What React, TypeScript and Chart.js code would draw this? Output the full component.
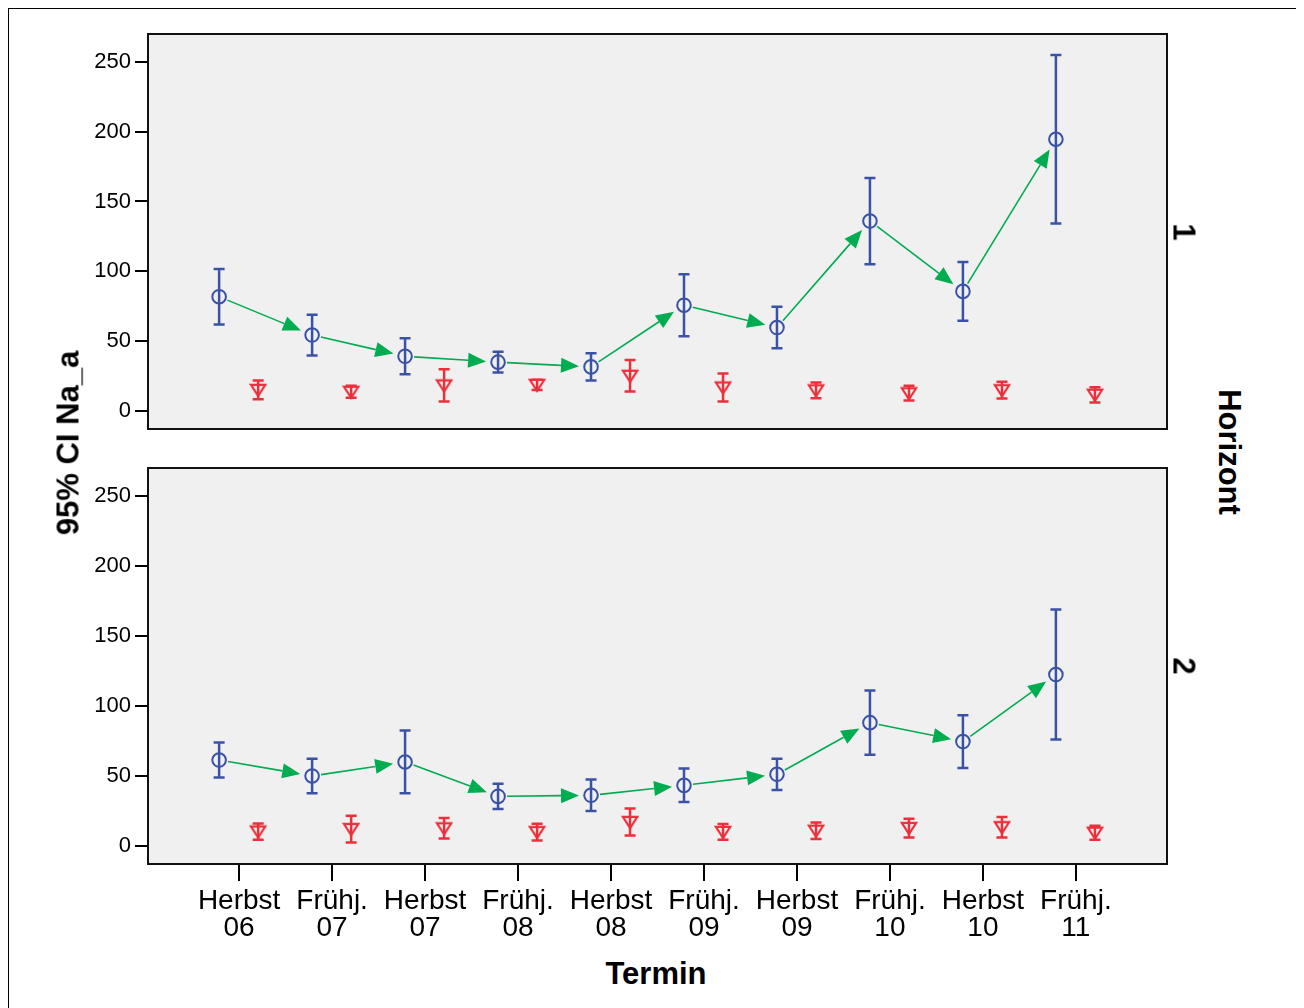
import React, { useEffect, useRef } from 'react';
import { Chart, registerables } from 'chart.js';

Chart.register(...registerables);

// ---------- data ----------
const categories: string[][] = [
  ['Herbst', '06'], ['Frühj.', '07'], ['Herbst', '07'], ['Frühj.', '08'], ['Herbst', '08'],
  ['Frühj.', '09'], ['Herbst', '09'], ['Frühj.', '10'], ['Herbst', '10'], ['Frühj.', '11'],
];
const yTickValues = [0, 50, 100, 150, 200, 250];
const horizonLabels = ['1', '2'];

// Horizont 1
const h1BlueMean = [81.8, 54.3, 39.1, 34.9, 31.5, 75.7, 59.7, 136.0, 85.6, 194.6];
const h1BlueLow = [61.8, 39.6, 26.3, 27.5, 21.7, 53.5, 44.9, 105.1, 64.5, 134.2];
const h1BlueHigh = [101.7, 68.8, 52.1, 42.3, 41.3, 97.9, 74.5, 166.9, 106.7, 255.0];
const h1RedMean = [15.0, 13.6, 18.2, 18.6, 25.1, 16.7, 14.7, 12.6, 14.8, 11.5];
const h1RedLow = [8.4, 9.3, 6.7, 15.0, 13.8, 6.7, 9.1, 7.4, 8.8, 6.0];
const h1RedHigh = [21.7, 17.9, 29.8, 22.2, 36.5, 26.7, 20.3, 17.9, 20.8, 17.0];

// Horizont 2
const h2BlueMean = [61.3, 49.9, 59.9, 35.3, 36.1, 43.2, 51.1, 88.0, 74.5, 122.4];
const h2BlueLow = [48.9, 37.5, 37.5, 26.3, 24.8, 31.3, 39.9, 65.0, 55.6, 75.9];
const h2BlueHigh = [73.8, 62.3, 82.4, 44.4, 47.3, 55.2, 62.3, 111.0, 93.3, 168.8];
const h2RedMean = [10.2, 12.0, 12.5, 9.8, 17.0, 9.9, 10.8, 12.7, 13.3, 9.3];
const h2RedLow = [4.3, 2.4, 5.2, 3.8, 7.4, 4.3, 4.8, 6.0, 6.0, 4.3];
const h2RedHigh = [16.0, 21.5, 19.8, 15.8, 26.7, 15.5, 16.7, 19.3, 20.5, 14.3];

// ---------- styles ----------
const BLUE = '#3A52A6';
const RED = '#EC2F3B';
const GREEN = '#00AC50';
const PANEL_BG = '#F0F0F0';
const FONT = '"Liberation Sans", Arial, Helvetica, sans-serif';

const X_MIN = -0.98;
const X_MAX = 9.98;
const Y_MIN = -13;
const Y_MAX = 270;
const BLUE_OFFSET = -0.215;
const RED_OFFSET = 0.205;

Chart.defaults.font.family = FONT;

function makeTriangle(color: string): HTMLCanvasElement {
  const c = document.createElement('canvas');
  c.width = 18;
  c.height = 16;
  const g = c.getContext('2d')!;
  g.strokeStyle = color;
  g.lineWidth = 2.2;
  g.lineJoin = 'miter';
  g.beginPath();
  g.moveTo(1.8, 2.8);
  g.lineTo(16.2, 2.8);
  g.lineTo(9, 14);
  g.closePath();
  g.stroke();
  return c;
}

const panelPlugin = {
  id: 'panelBox',
  beforeDraw(chart: any) {
    const { ctx, chartArea } = chart;
    const { left, top, right, bottom } = chartArea;
    ctx.save();
    ctx.fillStyle = PANEL_BG;
    ctx.fillRect(left, top, right - left, bottom - top);
    ctx.restore();
  },
  afterDraw(chart: any) {
    const { ctx, chartArea } = chart;
    const { left, top, right, bottom } = chartArea;
    ctx.save();
    ctx.strokeStyle = '#111';
    ctx.lineWidth = 2;
    ctx.strokeRect(left, top, right - left, bottom - top);
    ctx.restore();
  },
};

const errorBarPlugin = {
  id: 'errorBars',
  beforeDatasetsDraw(chart: any) {
    const ctx = chart.ctx;
    const yScale = chart.scales.y;
    chart.data.datasets.forEach((ds: any, di: number) => {
      if (!ds.errLow) return;
      const meta = chart.getDatasetMeta(di);
      ctx.save();
      ctx.strokeStyle = ds.errColor;
      ctx.lineWidth = 2.5;
      meta.data.forEach((pt: any, i: number) => {
        const x = pt.x;
        const yl = yScale.getPixelForValue(ds.errLow[i]);
        const yh = yScale.getPixelForValue(ds.errHigh[i]);
        ctx.beginPath();
        ctx.moveTo(x, yl);
        ctx.lineTo(x, yh);
        ctx.moveTo(x - 5.5, yl);
        ctx.lineTo(x + 5.5, yl);
        ctx.moveTo(x - 5.5, yh);
        ctx.lineTo(x + 5.5, yh);
        ctx.stroke();
      });
      ctx.restore();
    });
  },
};

const arrowPlugin = {
  id: 'arrows',
  beforeDatasetsDraw(chart: any) {
    const ctx = chart.ctx;
    chart.data.datasets.forEach((ds: any, di: number) => {
      if (!ds.arrows) return;
      const pts = chart.getDatasetMeta(di).data;
      ctx.save();
      ctx.strokeStyle = GREEN;
      ctx.fillStyle = GREEN;
      ctx.lineWidth = 1.6;
      for (let i = 0; i < pts.length - 1; i++) {
        const a = pts[i];
        const b = pts[i + 1];
        const dx = b.x - a.x;
        const dy = b.y - a.y;
        const len = Math.hypot(dx, dy);
        const ux = dx / len;
        const uy = dy / len;
        const px = -uy;
        const py = ux;
        const sx = a.x + ux * 9;
        const sy = a.y + uy * 9;
        const tx = b.x - ux * 12;
        const ty = b.y - uy * 12;
        const bx = tx - ux * 18;
        const by = ty - uy * 18;
        ctx.beginPath();
        ctx.moveTo(sx, sy);
        ctx.lineTo(bx, by);
        ctx.stroke();
        ctx.beginPath();
        ctx.moveTo(tx, ty);
        ctx.lineTo(bx + px * 7.5, by + py * 7.5);
        ctx.lineTo(bx - px * 7.5, by - py * 7.5);
        ctx.closePath();
        ctx.fill();
      }
      ctx.restore();
    });
  },
};

function zeroPadding(ax: any) {
  ax.paddingTop = 0;
  ax.paddingBottom = 0;
  ax.paddingLeft = 0;
  ax.paddingRight = 0;
}

function makeConfig(
  blueMean: number[], blueLow: number[], blueHigh: number[],
  redMean: number[], redLow: number[], redHigh: number[],
  showX: boolean, padTop: number, padBottom: number, xAxisH: number,
  triangle: HTMLCanvasElement,
): any {
  return {
    type: 'scatter',
    data: {
      datasets: [
        {
          data: blueMean.map((v, i) => ({ x: i + BLUE_OFFSET, y: v })),
          errLow: blueLow,
          errHigh: blueHigh,
          errColor: BLUE,
          arrows: true,
          pointStyle: 'circle',
          pointRadius: 6.8,
          pointBorderWidth: 2,
          borderColor: BLUE,
          backgroundColor: 'rgba(0,0,0,0)',
          pointBackgroundColor: 'rgba(0,0,0,0)',
          showLine: false,
        },
        {
          data: redMean.map((v, i) => ({ x: i + RED_OFFSET, y: v })),
          errLow: redLow,
          errHigh: redHigh,
          errColor: RED,
          pointStyle: triangle,
          pointRadius: 8,
          borderColor: RED,
          backgroundColor: 'rgba(0,0,0,0)',
          showLine: false,
        },
      ],
    },
    options: {
      animation: false,
      responsive: false,
      devicePixelRatio: 1,
      events: [],
      layout: { autoPadding: false, padding: { top: padTop, right: 3, bottom: padBottom, left: 0 } },
      plugins: { legend: { display: false }, tooltip: { enabled: false }, title: { display: false } },
      scales: {
        x: {
          type: 'linear',
          min: X_MIN,
          max: X_MAX,
          display: showX,
          afterBuildTicks: (ax: any) => {
            ax.ticks = categories.map((_, i) => ({ value: i }));
          },
          afterFit: (ax: any) => {
            ax.height = xAxisH;
            zeroPadding(ax);
          },
          grid: {
            display: true,
            drawOnChartArea: false,
            drawTicks: true,
            tickLength: 17,
            lineWidth: 2,
            color: '#000',
          },
          border: { display: false },
          ticks: {
            autoSkip: false,
            maxRotation: 0,
            minRotation: 0,
            padding: 7,
            color: '#000',
            font: { size: 28, lineHeight: 0.965 },
            callback: (_v: any, index: number) => categories[index],
          },
        },
        y: {
          type: 'linear',
          min: Y_MIN,
          max: Y_MAX,
          afterBuildTicks: (ax: any) => {
            ax.ticks = yTickValues.map((v) => ({ value: v }));
          },
          afterFit: (ax: any) => {
            ax.width = 108;
            zeroPadding(ax);
          },
          grid: {
            display: true,
            drawOnChartArea: false,
            drawTicks: true,
            tickLength: 13,
            lineWidth: 2,
            color: '#000',
          },
          border: { display: false },
          ticks: {
            padding: 4,
            color: '#000',
            font: { size: 22 },
          },
        },
      },
    },
    plugins: [panelPlugin, errorBarPlugin, arrowPlugin],
  };
}

const titleStyle: React.CSSProperties = {
  position: 'absolute',
  fontFamily: FONT,
  fontWeight: 'bold',
  fontSize: '31px',
  lineHeight: '31px',
  whiteSpace: 'nowrap',
  color: '#000',
};

export default function App() {
  const topRef = useRef<HTMLCanvasElement>(null);
  const botRef = useRef<HTMLCanvasElement>(null);

  useEffect(() => {
    document.documentElement.style.overflow = 'hidden';
    document.body.style.overflow = 'hidden';
    const tri = makeTriangle(RED);
    const c1 = new Chart(
      topRef.current!,
      makeConfig(h1BlueMean, h1BlueLow, h1BlueHigh, h1RedMean, h1RedLow, h1RedHigh, false, 14, 11, 0, tri),
    );
    const c2 = new Chart(
      botRef.current!,
      makeConfig(h2BlueMean, h2BlueLow, h2BlueHigh, h2RedMean, h2RedLow, h2RedHigh, true, 13, 0, 91, tri),
    );
    return () => {
      c1.destroy();
      c2.destroy();
    };
  }, []);

  return (
    <div
      style={{
        position: 'relative',
        width: '1291px',
        height: '1010px',
        border: '1px solid #000',
        boxSizing: 'border-box',
        background: '#fff',
      }}
    >
      <canvas
        ref={topRef}
        width={1130}
        height={420}
        style={{ position: 'absolute', left: '31px', top: '11px', width: '1130px', height: '420px' }}
      />
      <canvas
        ref={botRef}
        width={1130}
        height={500}
        style={{ position: 'absolute', left: '31px', top: '446px', width: '1130px', height: '500px' }}
      />
      <div style={{ ...titleStyle, left: '59px', top: '434px', transform: 'translate(-50%, -50%) rotate(-90deg)' }}>
        95% CI Na_a
      </div>
      <div style={{ ...titleStyle, left: '647px', top: '963.5px', transform: 'translate(-50%, -50%)' }}>
        Termin
      </div>
      <div style={{ ...titleStyle, left: '1220px', top: '443px', transform: 'translate(-50%, -50%) rotate(90deg)' }}>
        Horizont
      </div>
      <div style={{ ...titleStyle, left: '1175px', top: '222.5px', transform: 'translate(-50%, -50%) rotate(90deg)' }}>
        {horizonLabels[0]}
      </div>
      <div style={{ ...titleStyle, left: '1175px', top: '657px', transform: 'translate(-50%, -50%) rotate(90deg)' }}>
        {horizonLabels[1]}
      </div>
    </div>
  );
}
